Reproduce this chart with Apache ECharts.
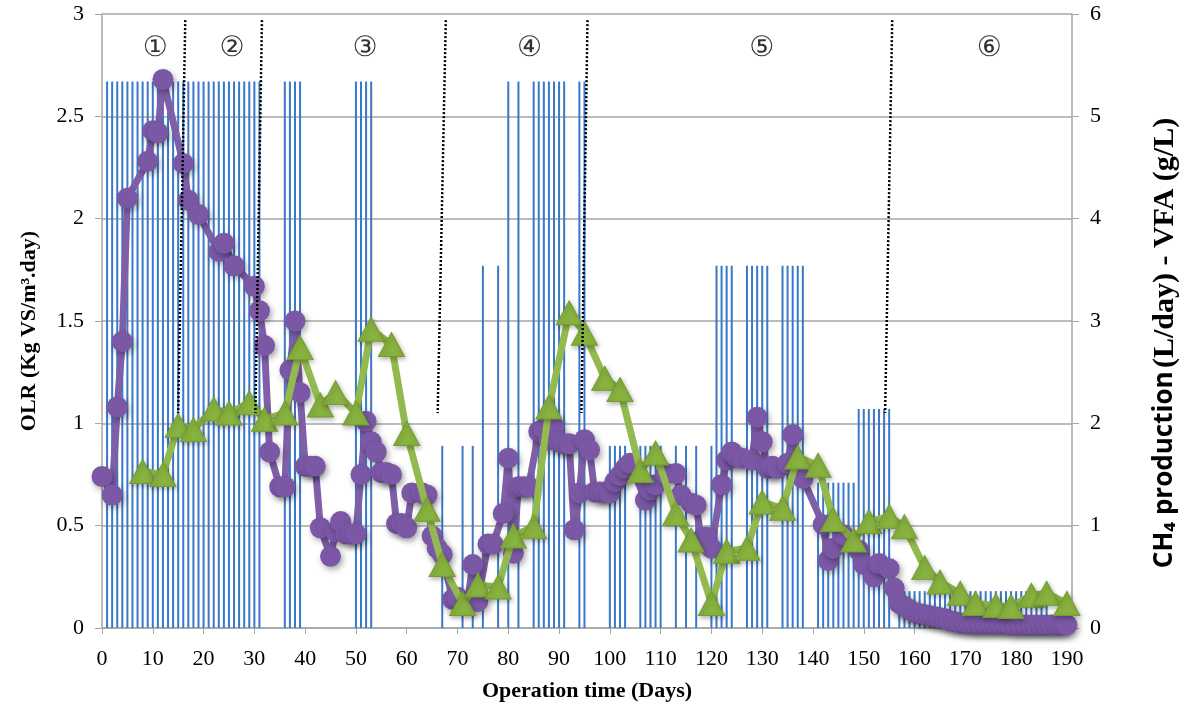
<!DOCTYPE html>
<html>
<head>
<meta charset="utf-8">
<script src="https://cdn.jsdelivr.net/npm/echarts@6/dist/echarts.min.js"></script>
<style>
  html, body { margin: 0; padding: 0; background: #fff; }
  #chart { width: 1196px; height: 715px; }
</style>
</head>
<body>
<div id="chart"></div>
<script>
// OLR feeding periods: [first day, last day, OLR (Kg VS/m3.day)]
var olrRuns = [
  [1, 31, 2.67], [36, 39, 2.67], [50, 53, 2.67],
  [67, 67, 0.89], [71, 71, 0.89], [73, 73, 0.89],
  [75, 75, 1.77], [78, 78, 1.77],
  [80, 80, 2.67], [82, 82, 2.67], [85, 91, 2.67], [94, 95, 2.67],
  [100, 103, 0.89], [106, 110, 0.89], [113, 113, 0.89], [115, 115, 0.89], [117, 117, 0.89], [120, 120, 0.89],
  [121, 124, 1.77], [127, 131, 1.77], [134, 138, 1.77],
  [141, 148, 0.71], [149, 155, 1.07], [157, 186, 0.18]
];

// purple series (right axis)
var purpleDays = [0, 2, 3, 4, 5, 9, 10, 11, 12, 16, 17, 19, 23, 24, 26, 30, 31, 32, 33, 35,
  36, 37, 38, 39, 40, 41, 42, 43, 45, 46, 47, 48, 49, 50, 51, 52, 53, 54, 55, 56,
  57, 58, 59, 60, 61, 63, 64, 65, 66, 67, 69, 70, 72, 73, 74, 76, 77, 79, 80, 81,
  82, 83, 84, 86, 87, 88, 89, 90, 91, 92, 93, 94, 95, 96, 97, 98, 99, 100, 101, 102,
  103, 104, 107, 108, 109, 111, 113, 114, 116, 117, 118, 119, 120, 122, 123, 124, 125, 126, 128, 129,
  130, 131, 132, 133, 135, 136, 137, 138, 142, 143, 144, 146, 149, 150, 152, 153, 155, 156, 157, 158,
  159, 160, 161, 162, 163, 164, 165, 166, 167, 168, 169, 170, 171, 172, 173, 174, 175, 176, 177, 178,
  179, 180, 181, 182, 183, 184, 185, 186, 187, 188, 189, 190];
var purpleValues = [1.48, 1.30, 2.16, 2.80, 4.20, 4.56, 4.86, 4.84, 5.36, 4.54, 4.18, 4.04, 3.68, 3.76, 3.54, 3.34, 3.10, 2.76, 1.72, 1.38,
  1.38, 2.52, 3.00, 2.30, 1.58, 1.58, 1.58, 0.98, 0.70, 0.94, 1.04, 0.92, 0.92, 0.92, 1.50, 2.02, 1.82, 1.72, 1.52, 1.52,
  1.50, 1.02, 1.02, 0.98, 1.32, 1.32, 1.30, 0.90, 0.78, 0.72, 0.28, 0.30, 0.26, 0.62, 0.26, 0.82, 0.82, 1.12, 1.66, 0.73,
  1.38, 1.38, 1.38, 1.92, 1.95, 1.84, 1.97, 1.82, 1.80, 1.80, 0.96, 1.32, 1.84, 1.74, 1.33, 1.33, 1.33, 1.32, 1.43, 1.49,
  1.56, 1.61, 1.25, 1.35, 1.40, 1.51, 1.51, 1.30, 1.22, 1.20, 0.86, 0.89, 0.78, 1.40, 1.64, 1.72, 1.67, 1.66, 1.64, 2.06,
  1.82, 1.56, 1.58, 1.56, 1.61, 1.89, 1.59, 1.46, 1.01, 0.66, 0.78, 0.91, 0.76, 0.62, 0.50, 0.63, 0.58, 0.39, 0.24, 0.21,
  0.18, 0.15, 0.14, 0.13, 0.12, 0.11, 0.10, 0.09, 0.07, 0.06, 0.05, 0.05, 0.04, 0.04, 0.04, 0.04, 0.04, 0.04, 0.04, 0.04,
  0.03, 0.03, 0.03, 0.03, 0.03, 0.03, 0.03, 0.03, 0.03, 0.03, 0.03, 0.03];

// green series (right axis)
var greenDays = [8, 12, 15, 18, 22, 25, 29, 32, 36, 39, 43, 46, 50, 53, 57, 60, 64, 67, 71, 74,
  78, 81, 85, 88, 92, 95, 99, 102, 106, 109, 113, 116, 120, 123, 127, 130, 134, 137, 141, 144,
  148, 151, 155, 158, 162, 165, 169, 172, 176, 179, 183, 186, 190];
var greenValues = [1.53, 1.50, 1.98, 1.94, 2.14, 2.10, 2.20, 2.04, 2.10, 2.74, 2.18, 2.30, 2.10, 2.92, 2.77, 1.90, 1.16, 0.62, 0.24, 0.42,
  0.40, 0.90, 0.99, 2.16, 3.08, 2.88, 2.44, 2.33, 1.54, 1.71, 1.12, 0.86, 0.24, 0.75, 0.78, 1.23, 1.17, 1.67, 1.59, 1.06,
  0.86, 1.04, 1.09, 0.99, 0.59, 0.45, 0.34, 0.24, 0.22, 0.21, 0.32, 0.34, 0.24];

// phase separators (left axis units): [top day, top value, bottom day, bottom value]
var phaseLines = [
  [16.4, 2.97, 15.0, 1.05],
  [31.5, 2.97, 30.2, 1.05],
  [67.7, 2.97, 66.1, 1.05],
  [95.6, 2.97, 94.4, 1.05],
  [155.6, 2.97, 154.2, 1.05]
];
var phaseNames = ['①', '②', '③', '④', '⑤', '⑥'];
var phaseNameDays = [10.5, 25.6, 51.8, 84.2, 129.9, 174.7];
var phaseNameLevel = 2.83;

var xTicks = { min: 0, max: 191, step: 10 };

(function () {
  var myChart = echarts.init(document.getElementById('chart'));

  var olrData = [];
  olrRuns.forEach(function (r) {
    for (var d = r[0]; d <= r[1]; d++) olrData.push([d, r[2]]);
  });
  var purpleData = purpleDays.map(function (d, i) { return [d, purpleValues[i]]; });
  var greenData = greenDays.map(function (d, i) { return [d, greenValues[i]]; });
  var labelData = phaseNameDays.map(function (d, i) { return [d, phaseNameLevel, phaseNames[i]]; });

  var gray = '#a6a6a6';
  var serif = '"Liberation Serif", "DejaVu Serif", serif';

  var series = [
    {
      name: 'OLR',
      type: 'bar',
      yAxisIndex: 0,
      barWidth: 2,
      itemStyle: { color: '#3a78c8' },
      data: olrData,
      z: 1
    },
    {
      name: 'purple',
      type: 'line',
      yAxisIndex: 1,
      symbol: 'circle',
      symbolSize: 21,
      lineStyle: { color: '#7e5fa8', width: 7 },
      itemStyle: {
        color: '#7b58a6',
        shadowBlur: 6, shadowColor: 'rgba(0,0,0,0.35)', shadowOffsetX: 2, shadowOffsetY: 3
      },
      data: purpleData,
      z: 3
    },
    {
      name: 'green',
      type: 'line',
      yAxisIndex: 1,
      symbol: 'triangle',
      symbolSize: [26, 24],
      lineStyle: { color: '#93ba4e', width: 7 },
      itemStyle: {
        color: '#89b33f', borderColor: '#739d30', borderWidth: 1,
        shadowBlur: 5, shadowColor: 'rgba(0,0,0,0.3)', shadowOffsetX: 1, shadowOffsetY: 2
      },
      data: greenData,
      z: 4
    }
  ];

  phaseLines.forEach(function (p) {
    series.push({
      type: 'line',
      yAxisIndex: 0,
      symbol: 'none',
      silent: true,
      lineStyle: { color: '#000', width: 2.5, type: [2, 2] },
      data: [[p[0], p[1]], [p[2], p[3]]],
      z: 5
    });
  });

  series.push({
    type: 'scatter',
    yAxisIndex: 0,
    symbolSize: 0,
    silent: true,
    label: {
      show: true,
      position: 'inside',
      formatter: function (p) { return p.value[2]; },
      fontFamily: '"DejaVu Sans", "Noto Sans CJK JP", sans-serif',
      fontSize: 28,
      color: '#000'
    },
    data: labelData,
    z: 6
  });

  var option = {
    animation: false,
    backgroundColor: '#fff',
    grid: { left: 102, right: 124, top: 14, bottom: 87 },
    xAxis: {
      type: 'value',
      min: xTicks.min,
      max: xTicks.max,
      interval: xTicks.step,
      name: 'Operation time (Days)',
      nameLocation: 'middle',
      nameGap: 52,
      nameTextStyle: { fontFamily: serif, fontWeight: 'bold', fontSize: 22, color: '#000' },
      axisLine: { lineStyle: { color: gray, width: 1.5 } },
      axisTick: { show: true, length: 6, lineStyle: { color: gray } },
      axisLabel: { showMaxLabel: false, margin: 20, fontFamily: serif, fontSize: 22, color: '#000' },
      splitLine: { show: false }
    },
    yAxis: [
      {
        type: 'value',
        min: 0,
        max: 3,
        interval: 0.5,
        name: 'OLR (Kg VS/m³.day)',
        nameLocation: 'middle',
        nameGap: 62,
        nameRotate: 90,
        nameTextStyle: { fontFamily: serif, fontWeight: 'bold', fontSize: 22, color: '#000', padding: [0, 20, 0, 0] },
        axisLine: { show: true, lineStyle: { color: gray, width: 1.5 } },
        axisTick: { show: true, length: 7, lineStyle: { color: gray } },
        axisLabel: { margin: 18, fontFamily: serif, fontSize: 22, color: '#000' },
        splitLine: { show: true, lineStyle: { color: gray, width: 1.5 } }
      },
      {
        type: 'value',
        min: 0,
        max: 6,
        interval: 1,
        position: 'right',
        name: '{a|CH₄ production} {b|(L/day) - VFA (g/L)}',
        nameLocation: 'middle',
        nameGap: 78,
        nameRotate: 90,
        nameTextStyle: {
          padding: [0, 44, 0, 0],
          rich: {
            a: { fontFamily: '"Open Sans", "DejaVu Sans", sans-serif', fontWeight: 'bold', fontSize: 26, color: '#000' },
            b: { fontFamily: serif, fontWeight: 'bold', fontSize: 30, color: '#000' }
          }
        },
        axisLine: { show: true, lineStyle: { color: gray, width: 1.5 } },
        axisTick: { show: true, length: 7, lineStyle: { color: gray } },
        axisLabel: { margin: 18, fontFamily: serif, fontSize: 22, color: '#000' },
        splitLine: { show: false }
      }
    ],
    series: series
  };

  myChart.setOption(option);
})();
</script>
</body>
</html>
